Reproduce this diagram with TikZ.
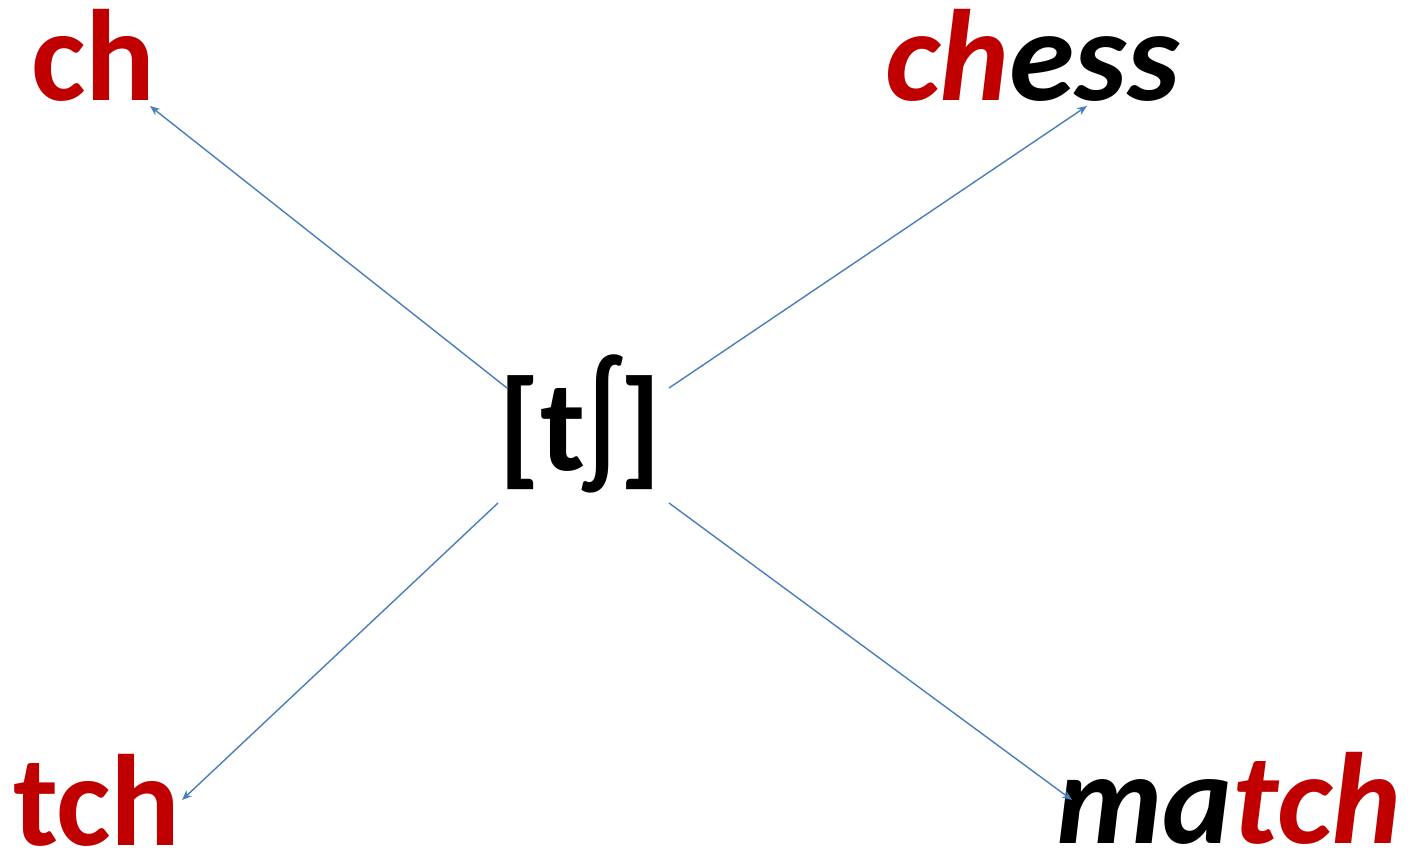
\documentclass[tikz,border=0pt]{standalone}
\usepackage{fontspec}
\setmainfont{Carlito}
\usetikzlibrary{arrows.meta}
\definecolor{darkred}{HTML}{C00000}
\definecolor{arrowblue}{HTML}{4A7EBB}
\begin{document}
\begin{tikzpicture}[x=1pt,y=-1pt,
  word/.style={inner sep=0pt, anchor=base west, font=\fontsize{130}{130}\selectfont\bfseries},
  iword/.style={word, font=\fontsize{130}{130}\selectfont\bfseries\itshape},
  conn/.style={draw=arrowblue, line width=1.4pt, -{Stealth[length=10pt,width=8pt]}}]
\useasboundingbox (0,0) rectangle (1422,855);
\node[word, text=darkred] (ch) at (31,100) {ch};
\node[iword] (chess) at (885,100) {\scalebox{1.02}[1]{\textcolor{darkred}{ch}ess}};
\node[word, text=darkred] (tch) at (13,845) {tch};
\node[iword] (match) at (1056,843) {\scalebox{1.02}[1]{ma\textcolor{darkred}{tch}}};
\node[inner sep=0pt, anchor=base, font=\fontsize{130}{130}\selectfont\bfseries] (c) at (580,470)
  {[t{\mdseries\raisebox{5pt}{\scalebox{1.1}[1.25]{ʃ}}}]};
\draw[conn] ([shift={(-73,-82)}]c.base) -- ([shift={(119,6)}]ch.base west);
\draw[conn] ([shift={(89,-82)}]c.base) -- ([shift={(202,6)}]chess.base west);
\draw[conn] ([shift={(-82,33)}]c.base) -- ([shift={(169,-45)}]tch.base west);
\draw[conn] ([shift={(89,33)}]c.base) -- ([shift={(16,-43)}]match.base west);
\end{tikzpicture}
\end{document}
